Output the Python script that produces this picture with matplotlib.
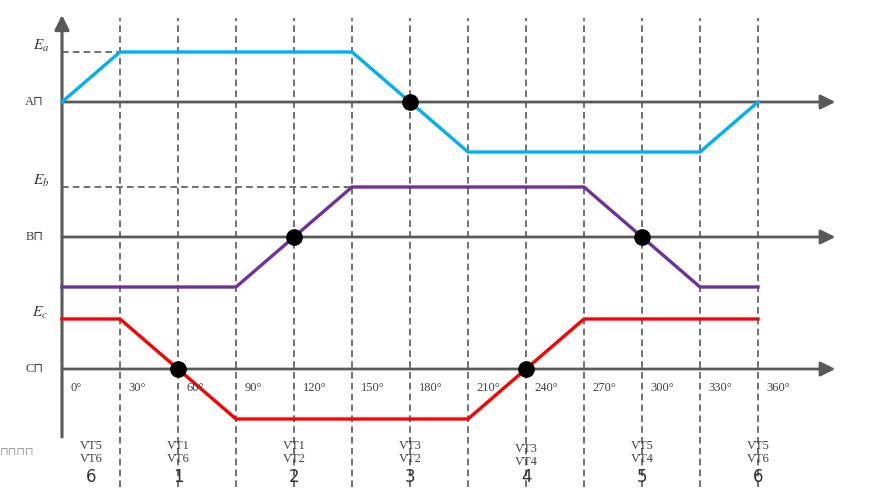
import numpy as np
import matplotlib.pyplot as plt

# phase EMF waveforms (per unit), breakpoints in electrical degrees
a_deg = [0, 30, 150, 210, 330, 360]
a_val = [0, 1, 1, -1, -1, 0]
b_deg = [0, 90, 150, 270, 330, 360]
b_val = [-1, -1, 1, 1, -1, -1]
c_deg = [0, 30, 90, 210, 270, 360]
c_val = [1, 1, -1, -1, 1, 1]

# zero crossings marked with dots
a_zero = [180]
b_zero = [120, 300]
c_zero = [60, 240]

angles = [0, 30, 60, 90, 120, 150, 180, 210, 240, 270, 300, 330, 360]
angle_labels = ["0°", "30°", "60°", "90°", "120°", "150°", "180°",
                "210°", "240°", "270°", "300°", "330°", "360°"]

# conducting switches per sector
sector_centers = [15, 60, 120, 180, 240, 300, 360]
sector_top = ["VT5", "VT1", "VT1", "VT3", "VT3", "VT5", "VT5"]
sector_bot = ["VT6", "VT6", "VT2", "VT2", "VT4", "VT4", "VT6"]
sector_num = ["6", "1", "2", "3", "4", "5", "6"]

phase_names = ["A⊓", "B⊓", "C⊓"]
amp_names = ["$E_a$", "$E_b$", "$E_c$"]

# vertical offsets of the three phase axes
offsets = [0.0, -2.7, -5.34]
colors = ["#00b0f0", "#7030a0", "#ff0000"]
axis_col = "#595959"
serif = ["Liberation Serif", "DejaVu Sans"]

fig = plt.figure(figsize=(8.7, 5.03), dpi=100)
ax = fig.add_axes([0, 0, 1, 1])
ax.set_xlim(-32.07, 417.93)
ax.set_ylim(-8.02, 2.04)
ax.axis("off")

# dashed sector lines
for d in angles[1:]:
    ax.plot([d, d], [-7.7, 1.68], color=axis_col, lw=1.2,
            ls=(0, (4, 2.5)), zorder=1)

# vertical axis with arrow
ax.annotate("", xy=(0, 1.74), xytext=(0, -6.7),
            arrowprops=dict(arrowstyle="-|>", color=axis_col, lw=2.2,
                            mutation_scale=22, shrinkA=0, shrinkB=0),
            zorder=2)

waves = [(a_deg, a_val, a_zero), (b_deg, b_val, b_zero), (c_deg, c_val, c_zero)]
amp_x = [-6.5, -6.5, -7.5]
for i, (deg, val, zeros) in enumerate(waves):
    off = offsets[i]
    ax.annotate("", xy=(400, off), xytext=(0, off),
                arrowprops=dict(arrowstyle="-|>", color=axis_col, lw=2.0,
                                mutation_scale=22, shrinkA=0, shrinkB=0),
                zorder=2)
    ax.plot(deg, np.array(val) + off, color=colors[i], lw=2.4,
            solid_joinstyle="miter", zorder=3)
    ax.plot(zeros, [off] * len(zeros), "o", color="black", ms=11, zorder=4)
    ax.text(-9.5, off, phase_names[i], ha="right", va="center",
            fontsize=9, family=serif, color="#404040")
    ax.text(amp_x[i], off + 1.12, amp_names[i], ha="right", va="center",
            fontsize=11, color="#333333", math_fontfamily="stix")

# Ea / Eb reference dashes
ax.plot([0, 30], [1, 1], color=axis_col, lw=1.2, ls=(0, (4, 2.5)), zorder=1)
ax.plot([0, 150], [offsets[1] + 1, offsets[1] + 1], color=axis_col, lw=1.2,
        ls=(0, (4, 2.5)), zorder=1)

# angle labels
for d, lab in zip(angles, angle_labels):
    ax.text(d + 4.5, -5.72, lab, ha="left", va="center", fontsize=9,
            family=serif, color="#404040")

# sector labels
for c, t, b, n in zip(sector_centers, sector_top, sector_bot, sector_num):
    dy = -0.06 if n == "4" else 0.0
    ax.text(c, -6.88 + dy, t, ha="center", va="center", fontsize=9,
            family=serif, color="#404040")
    ax.text(c, -7.14 + dy, b, ha="center", va="center", fontsize=9,
            family=serif, color="#404040")
    ax.text(c, -7.5, n, ha="center", va="center", fontsize=12,
            color="#333333")

ax.text(-32, -7.0, "⊓⊓⊓⊓", ha="left", va="center", fontsize=8,
        color="#9a9a9a")

fig.savefig("out.png", dpi=100)
